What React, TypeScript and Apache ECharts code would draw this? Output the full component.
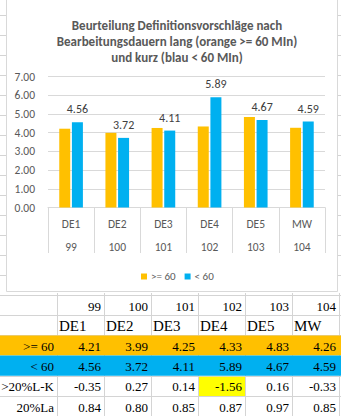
import React, { useEffect, useRef } from "react";
import * as echarts from "echarts";

const titleLines = [
  "Beurteilung Definitionsvorschläge nach",
  "Bearbeitungsdauern lang (orange >= 60 MIn)",
  "und kurz (blau < 60 MIn)",
];
const categories = ["DE1", "DE2", "DE3", "DE4", "DE5", "MW"];
const codes = ["99", "100", "101", "102", "103", "104"];
const seriesNames = [">= 60", "< 60"];
const longValues = [4.21, 3.99, 4.25, 4.33, 4.83, 4.26];
const shortValues = [4.56, 3.72, 4.11, 5.89, 4.67, 4.59];
const diffValues = [-0.35, 0.27, 0.14, -1.56, 0.16, -0.33];
const ratioValues = [0.84, 0.8, 0.85, 0.87, 0.97, 0.85];
const extraRowLabels = [">20%L-K", "20%La"];
const highlightedDiffIndex = 3;
const yMin = 0;
const yMax = 7;
const yInterval = 1;

const ORANGE = "#FFC000";
const BLUE = "#00B0F0";
const SANS = "Carlito, Calibri, Lato, sans-serif";
const SERIF = "'Liberation Serif', 'Times New Roman', serif";
const GRIDC = "#d4d4d4";

function buildTable(): any[] {
  const els: any[] = [];
  const top = 295;
  const rowH = 20.2;
  const x0 = 57;
  const colW = 47;
  const W = 341;
  // outside sheet gridlines
  for (let y = 15; y <= 275; y += 20) {
    els.push({ type: "line", z: -200, shape: { x1: 0, y1: y + 0.5, x2: 6.5, y2: y + 0.5 }, style: { stroke: GRIDC, lineWidth: 1 } });
    els.push({ type: "line", z: -200, shape: { x1: 337.5, y1: y + 0.5, x2: W, y2: y + 0.5 }, style: { stroke: GRIDC, lineWidth: 1 } });
  }
  // chart box
  els.push({
    type: "rect", z: -100,
    shape: { x: 6.5, y: -2, width: 331, height: 293.5 },
    style: { fill: "#ffffff", stroke: "#d9d9d9", lineWidth: 1 },
  });
  // grid lines of table
  for (let i = 0; i <= 6; i++) {
    const y = Math.round(top + i * rowH) + 0.5;
    els.push({ type: "line", shape: { x1: 0, y1: y, x2: W, y2: y }, style: { stroke: GRIDC, lineWidth: 1 } });
  }
  for (let j = 0; j <= 6; j++) {
    const x = x0 + j * colW + 0.5;
    els.push({ type: "line", shape: { x1: x, y1: top - 2, x2: x, y2: 416 }, style: { stroke: GRIDC, lineWidth: 1 } });
  }
  // fills
  els.push({ type: "rect", shape: { x: 0, y: top + 2 * rowH, width: W, height: rowH }, style: { fill: ORANGE } });
  els.push({ type: "rect", shape: { x: 0, y: top + 3 * rowH, width: W, height: rowH }, style: { fill: BLUE } });
  els.push({
    type: "rect",
    shape: { x: x0 + highlightedDiffIndex * colW + 1, y: top + 4 * rowH + 1, width: colW - 1, height: rowH - 1 },
    style: { fill: "#FFFF00" },
  });
  const cy = (r: number) => top + r * rowH + rowH / 2 + 1;
  const txt = (s: string, x: number, y: number, align: string, size: number) => ({
    type: "text",
    x, y,
    style: { text: s, align, verticalAlign: "middle", fill: "#000000", font: `${size}px ${SERIF}` },
  });
  const rows: { label: string; vals: string[] }[] = [
    { label: seriesNames[0], vals: longValues.map((v) => v.toFixed(2)) },
    { label: seriesNames[1], vals: shortValues.map((v) => v.toFixed(2)) },
    { label: extraRowLabels[0], vals: diffValues.map((v) => v.toFixed(2)) },
    { label: extraRowLabels[1], vals: ratioValues.map((v) => v.toFixed(2)) },
  ];
  codes.forEach((c, j) => els.push(txt(c, x0 + (j + 1) * colW - 3, cy(0), "right", 13)));
  categories.forEach((c, j) => els.push(txt(c, x0 + j * colW + 2, cy(1), "left", 15)));
  rows.forEach((row, r) => {
    els.push(txt(row.label, x0 - 3, cy(r + 2), "right", 13));
    row.vals.forEach((v, j) => els.push(txt(v, x0 + (j + 1) * colW - 3, cy(r + 2), "right", 13)));
  });
  return els;
}

export default function App() {
  const ref = useRef<HTMLDivElement>(null);
  useEffect(() => {
    if (!ref.current) return;
    const chart = echarts.init(ref.current, undefined, { renderer: "svg" });
    chart.setOption({
      animation: false,
      backgroundColor: "#ffffff",
      title: {
        text: titleLines.join("\n"),
        left: 172,
        top: 12,
        textAlign: "center",
        textStyle: { fontFamily: SANS, fontSize: 13, fontWeight: "bold", color: "#595959", lineHeight: 16 },
      },
      legend: {
        data: seriesNames,
        left: 136,
        top: 266,
        icon: "rect",
        itemWidth: 6,
        itemHeight: 6,
        itemGap: 9,
        textStyle: { fontFamily: SANS, fontSize: 11, color: "#595959", padding: [0, 0, 0, -1] },
      },
      grid: { left: 48, right: 16, top: 76.5, bottom: 208.5 },
      xAxis: {
        type: "category",
        data: categories,
        axisLine: { show: true, lineStyle: { color: "#d9d9d9" } },
        axisTick: { show: true, length: 45.5, lineStyle: { color: "#d9d9d9" } },
        axisLabel: {
          margin: 4.5,
          interval: 0,
          formatter: (v: string, i: number) => `{a|${v}}\n{a|${codes[i]}}`,
          rich: { a: { fontFamily: SANS, fontSize: 11.5, color: "#595959", lineHeight: 23 } },
        },
      },
      yAxis: {
        type: "value",
        min: yMin,
        max: yMax,
        interval: yInterval,
        axisLine: { show: false },
        axisTick: { show: false },
        splitLine: { lineStyle: { color: "#d9d9d9" } },
        axisLabel: {
          margin: 13,
          formatter: (v: number) => v.toFixed(2),
          fontFamily: SANS,
          fontSize: 11.5,
          color: "#595959",
        },
      },
      series: [
        {
          name: seriesNames[0],
          type: "bar",
          data: longValues,
          barWidth: 11,
          barGap: "15%",
          itemStyle: { color: ORANGE },
        },
        {
          name: seriesNames[1],
          type: "bar",
          data: shortValues,
          barWidth: 11,
          barGap: "15%",
          itemStyle: { color: BLUE },
          label: {
            show: true,
            position: "top",
            distance: 7,
            formatter: (p: any) => Number(p.value).toFixed(2),
            fontFamily: SANS,
            fontSize: 12,
            color: "#404040",
          },
        },
      ],
      graphic: buildTable(),
    });
    return () => chart.dispose();
  }, []);
  return <div ref={ref} style={{ position: "absolute", left: 0, top: 0, width: 341, height: 416 }} />;
}
